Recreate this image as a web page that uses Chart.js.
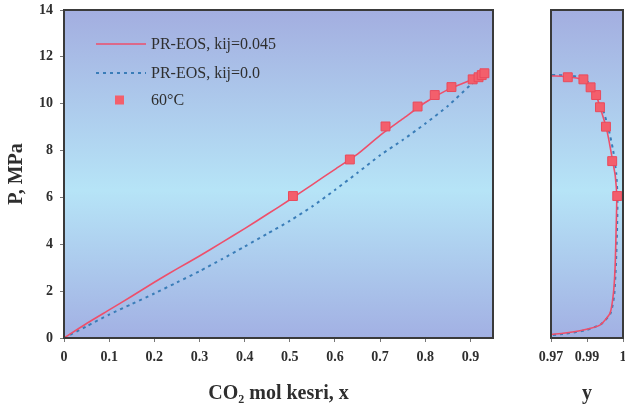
<!DOCTYPE html>
<html><head><meta charset="utf-8">
<script src="https://cdn.jsdelivr.net/npm/chart.js@4.4.1/dist/chart.umd.min.js"></script>
<style>
html,body{margin:0;padding:0;background:#fff;overflow:hidden;width:625px;height:409px;position:relative;}
#c1{position:absolute;left:0;top:0;}
#c2{position:absolute;left:500px;top:0;}
</style></head><body>
<canvas id="c1" width="520" height="409"></canvas>
<canvas id="c2" width="150" height="409"></canvas>
<script>
// ---- tick labels ----
const xTicks = [0, 0.1, 0.2, 0.3, 0.4, 0.5, 0.6, 0.7, 0.8, 0.9];
const xTickLabels = ['0', '0.1', '0.2', '0.3', '0.4', '0.5', '0.6', '0.7', '0.8', '0.9'];
const pTicks = [0, 2, 4, 6, 8, 10, 12, 14];
const pTickLabels = ['0', '2', '4', '6', '8', '10', '12', '14'];
const yTicks = [0.97, 0.985, 1.0];
const yTickLabels = ['0.97', '0.99', '1'];

// ---- series labels ----
const labelKij045 = 'PR-EOS, kij=0.045';
const labelKij0 = 'PR-EOS, kij=0.0';
const labelExp = '60°C';

// ---- liquid phase (left panel) ----
const liqX = [0, 0.05, 0.1, 0.15, 0.2, 0.25, 0.3, 0.35, 0.4, 0.45, 0.5, 0.55, 0.6, 0.65, 0.7, 0.75, 0.8, 0.85, 0.9, 0.93];
const liqP045 = [0, 0.62, 1.2, 1.78, 2.38, 2.95, 3.5, 4.08, 4.67, 5.28, 5.9, 6.55, 7.2, 7.85, 8.65, 9.35, 10.05, 10.6, 11.0, 11.28];
const liqP0 = [0, 0.5, 1.0, 1.45, 1.9, 2.37, 2.85, 3.37, 3.9, 4.45, 5.0, 5.62, 6.32, 7.05, 7.8, 8.45, 9.15, 9.9, 10.8, 11.3];

// ---- experimental 60°C ----
const expX = [0.507, 0.633, 0.712, 0.783, 0.821, 0.858, 0.905, 0.918, 0.925, 0.931];
const expPx = [6.06, 7.62, 9.03, 9.88, 10.37, 10.71, 11.04, 11.13, 11.22, 11.3];
const expY = [0.9976, 0.9955, 0.9929, 0.9904, 0.9888, 0.9865, 0.9835, 0.977];
const expPy = [6.06, 7.55, 9.02, 9.85, 10.37, 10.70, 11.04, 11.13];

// ---- vapour phase (right panel) ----
const vapY045 = [0.965, 0.975, 0.983, 0.9904, 0.9946, 0.996, 0.9967, 0.9971, 0.9974, 0.9968, 0.9957, 0.9942, 0.9929, 0.9912, 0.989, 0.9865, 0.9835, 0.979, 0.972, 0.965];
const vapP045 = [0.1, 0.2, 0.33, 0.55, 1.06, 1.9, 3.0, 4.5, 6.0, 6.9, 7.55, 8.4, 9.02, 9.6, 10.3, 10.7, 11.02, 11.12, 11.18, 11.21];
const vapY0 = [0.965, 0.976, 0.985, 0.991, 0.9948, 0.9963, 0.997, 0.9975, 0.9977, 0.9972, 0.9959, 0.9938, 0.9915, 0.9893, 0.9862, 0.983, 0.978, 0.97, 0.965];
const vapP0 = [0.08, 0.18, 0.35, 0.6, 1.05, 1.8, 3.0, 4.5, 6.0, 7.0, 8.0, 9.0, 9.8, 10.4, 10.85, 11.1, 11.2, 11.23, 11.24];

const pts = (xs, ys) => xs.map((v, i) => ({x: v, y: ys[i]}));

const SERIF = "'Liberation Serif', 'Times New Roman', serif";
const RED = '#ee4f6b';
const BLUE = '#3a7db8';
const SQ_FILL = '#f35f6c';
const SQ_EDGE = '#e94a5c';
const TXT = '#2e2e2e';

const bgPlugin = {
  id: 'bg',
  beforeDraw(chart) {
    const {ctx, chartArea: a} = chart;
    const g = ctx.createLinearGradient(0, a.top, 0, a.bottom);
    g.addColorStop(0, '#a3aee0');
    g.addColorStop(0.55, '#b6e4f7');
    g.addColorStop(1, '#a2b0e3');
    ctx.save();
    ctx.fillStyle = g;
    ctx.fillRect(a.left, a.top, a.right - a.left, a.bottom - a.top);
    ctx.restore();
  },
  afterDraw(chart) {
    const {ctx, chartArea: a} = chart;
    ctx.save();
    ctx.strokeStyle = '#3a3a3a';
    ctx.lineWidth = 2;
    ctx.strokeRect(a.left, a.top, a.right - a.left, a.bottom - a.top);
    ctx.restore();
  }
};

const legendPlugin = {
  id: 'customLegend',
  afterDraw(chart) {
    const ctx = chart.ctx;
    const ds = chart.data.datasets;
    const rows = [
      {d: ds[1], y: 44, kind: 'line'},
      {d: ds[2], y: 73, kind: 'line'},
      {d: ds[0], y: 100, kind: 'point'}
    ];
    ctx.save();
    ctx.font = '16px ' + SERIF;
    ctx.textBaseline = 'middle';
    ctx.fillStyle = TXT;
    rows.forEach(r => {
      if (r.kind === 'line') {
        ctx.beginPath();
        ctx.strokeStyle = r.d.borderColor;
        ctx.lineWidth = r.d.borderWidth;
        ctx.setLineDash(r.d.borderDash || []);
        ctx.moveTo(96, r.y);
        ctx.lineTo(146, r.y);
        ctx.stroke();
        ctx.setLineDash([]);
      } else {
        ctx.fillStyle = r.d.pointBackgroundColor;
        ctx.fillRect(115, r.y - 4.5, 9, 9);
        ctx.fillStyle = TXT;
      }
      ctx.fillText(r.d.label, 151, r.y + 1);
    });
    ctx.restore();
  }
};

function commonScaleX(ticksArr, labels, min, max, title) {
  return {
    type: 'linear', min: min, max: max,
    afterBuildTicks(s) { s.ticks = ticksArr.map(v => ({value: v})); },
    afterFit(s) { s.height = 71; s.paddingLeft = 0; s.paddingRight = 0; },
    ticks: {
      autoSkip: false, maxRotation: 0, padding: 7, color: TXT,
      font: {family: SERIF, size: 14, weight: 'bold'},
      callback(v, i) { return labels[i]; }
    },
    grid: {drawOnChartArea: false, drawTicks: true, tickLength: 4, color: '#777', lineWidth: 1},
    border: {display: false},
    title: {display: true, text: title, color: TXT, padding: {top: 0, bottom: 3},
      font: {family: SERIF, size: 20, weight: 'bold'}}
  };
}

const expDataset = (data) => ({
  label: labelExp, data: data, showLine: false, order: 0,
  pointStyle: 'rect', pointRadius: 6.3, pointBackgroundColor: SQ_FILL,
  pointBorderColor: SQ_EDGE, pointBorderWidth: 1
});
const lineDataset = (label, data, color, width, dash, order) => ({
  label: label, data: data, showLine: true, order: order,
  borderColor: color, borderWidth: width, borderDash: dash,
  pointRadius: 0, tension: 0.2, fill: false
});

new Chart(document.getElementById('c1'), {
  type: 'scatter',
  data: {
    datasets: [
      expDataset(pts(expX, expPx)),
      lineDataset(labelKij045, pts(liqX, liqP045), RED, 1.6, [], 1),
      lineDataset(labelKij0, pts(liqX, liqP0), BLUE, 2, [3, 4], 2)
    ]
  },
  options: {
    responsive: false, animation: false, devicePixelRatio: 1, events: [],
    layout: {padding: {left: 0, top: 10, right: 27, bottom: 0}},
    plugins: {legend: {display: false}, tooltip: {enabled: false}},
    scales: {
      x: commonScaleX(xTicks, xTickLabels, 0, 0.95, 'CO₂ mol kesri, x'),
      y: {
        type: 'linear', min: 0, max: 14,
        afterBuildTicks(s) { s.ticks = pTicks.map(v => ({value: v})); },
        afterFit(s) { s.width = 64; s.paddingTop = 0; s.paddingBottom = 0; },
        ticks: {padding: 7, color: TXT, font: {family: SERIF, size: 14, weight: 'bold'},
          callback(v, i) { return pTickLabels[i]; }},
        grid: {drawOnChartArea: false, drawTicks: true, tickLength: 4, color: '#777'},
        border: {display: false},
        title: {display: true, text: 'P, MPa', color: TXT, padding: {top: 5, bottom: 0},
          font: {family: SERIF, size: 20, weight: 'bold'}}
      }
    }
  },
  plugins: [bgPlugin, legendPlugin]
});

new Chart(document.getElementById('c2'), {
  type: 'scatter',
  data: {
    datasets: [
      expDataset(pts(expY, expPy)),
      lineDataset(labelKij045, pts(vapY045, vapP045), RED, 1.6, [], 1),
      lineDataset(labelKij0, pts(vapY0, vapP0), BLUE, 2, [3, 4], 2)
    ]
  },
  options: {
    responsive: false, animation: false, devicePixelRatio: 1, events: [],
    layout: {padding: {left: 0, top: 10, right: 27, bottom: 0}},
    plugins: {legend: {display: false}, tooltip: {enabled: false}},
    scales: {
      x: commonScaleX(yTicks, yTickLabels, 0.97, 1.0, 'y'),
      y: {
        type: 'linear', min: 0, max: 14,
        afterBuildTicks(s) { s.ticks = pTicks.map(v => ({value: v})); },
        afterFit(s) { s.width = 51; s.paddingTop = 0; s.paddingBottom = 0; },
        ticks: {display: false},
        grid: {drawOnChartArea: false, drawTicks: false},
        border: {display: false}
      }
    }
  },
  plugins: [bgPlugin]
});
</script>
</body></html>
